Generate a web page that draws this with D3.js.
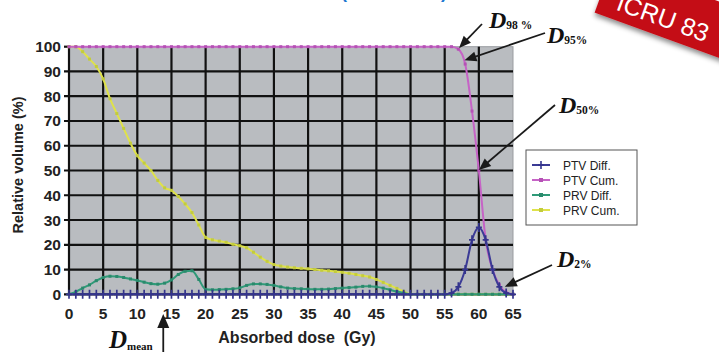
<!DOCTYPE html>
<html><head><meta charset="utf-8">
<script src="https://cdn.jsdelivr.net/npm/d3@7"></script>
<style>
html,body{margin:0;padding:0;background:#fff;overflow:hidden}
svg{display:block}
</style></head><body>
<svg id="chart" width="719" height="352"></svg>
<script>
// Dose bins (Gy)
const doses = [0,1,2,3,4,5,6,7,8,9,10,11,12,13,14,15,16,17,18,19,20,21,22,23,24,25,26,27,28,29,30,31,32,33,34,35,36,37,38,39,40,41,42,43,44,45,46,47,48,49,50,51,52,53,54,55,56,57,58,59,60,61,62,63,64,65];

// PTV differential DVH (%)
const ptvDiff = [0,0,0,0,0,0,0,0,0,0, 0,0,0,0,0,0,0,0,0,0, 0,0,0,0,0,0,0,0,0,0, 0,0,0,0,0,0,0,0,0,0, 0,0,0,0,0,0,0,0,0,0, 0,0,0,0,0,0, 0.5,3,10,22,27,22,10,3,0.5,0];

// PTV cumulative DVH (%)
const ptvCum = [100,100,100,100,100,100,100,100,100,100, 100,100,100,100,100,100,100,100,100,100, 100,100,100,100,100,100,100,100,100,100, 100,100,100,100,100,100,100,100,100,100, 100,100,100,100,100,100,100,100,100,100, 100,100,100,100,100,100,100, 99,93,74,50,22,10,3.8,0.8,0];

// PRV differential DVH (%)
const prvDiff = [0,1,2.5,3.8,5.5,6.8,7.3,7.2,6.8,6.2, 5.6,4.9,4.3,4.1,4.5,5.8,8,9.3,9.5,6, 2,1.8,1.9,2,2.2,2.6,3.6,4.2,4.2,4, 3.6,3,2.5,2.3,2.2,2.1,2,2,2.1,2.3, 2.5,2.7,2.9,3.2,3.3,3,2.5,1.8,1.1,0.5, 0, 0,0,0,0,0,0,0,0,0,0,0,0,0,0,0];

// PRV cumulative DVH (%)
const prvCum = [100,100,98,95,92,87,79,73,67,61, 56,53,50,46,43,42,39.5,36.5,33,28, 23,22,21.5,21,20.2,19.6,18.8,17,15,13.3, 12,11.4,11,10.7,10.5,10.3,10,9.7,9.5,9.2, 8.9,8.5,8,7.5,7,6,4.8,3.6,2.4,1.2, 0, 0,0,0,0,0,0,0,0,0,0,0,0,0,0,0];

const xTicks = [0,5,10,15,20,25,30,35,40,45,50,55,60,65];
const yTicks = [0,10,20,30,40,50,60,70,80,90,100];

const seriesNames = ["PTV Diff.","PTV Cum.","PRV Diff.","PRV Cum."];
const seriesColors = ["#3b3b96","#c663c6","#2f9a78","#dfe24a"];
const markerColors = ["#34348c","#b552b5","#2a8a6c","#c3cc3c"];
const seriesValues = [ptvDiff, ptvCum, prvDiff, prvCum];

const sans = "'Liberation Sans', Arial, Helvetica, sans-serif";
const serif = "'Liberation Serif', 'Times New Roman', serif";

const svg = d3.select("#chart");
const L = 69, R = 513, T = 46.7, B = 294.3;
const x = d3.scaleLinear().domain([0,65]).range([L,R]);
const y = d3.scaleLinear().domain([0,100]).range([B,T]);

// blue heading running off the top edge
svg.append("text").attr("x",447).attr("y",-2)
  .attr("text-anchor","end").attr("font-family",sans).attr("font-weight","bold")
  .attr("font-size",18).attr("fill","#1c78d0")
  .text("Dose–volume (cumulative)");

// plot background
svg.append("rect").attr("x",L).attr("y",T).attr("width",R-L).attr("height",B-T)
  .attr("fill","#b9bcc0").attr("stroke","#9a9da1").attr("stroke-width",1);

// grid
const grid = svg.append("g").attr("stroke","#111").attr("stroke-width",2.2);
grid.selectAll("line.v").data(xTicks.filter(d=>d<65)).join("line")
  .attr("x1",d=>x(d)).attr("x2",d=>x(d)).attr("y1",y(100)).attr("y2",y(0));
grid.selectAll("line.h").data(yTicks.filter(d=>d<100)).join("line")
  .attr("x1",x(0)-5).attr("x2",x(65)).attr("y1",d=>y(d)).attr("y2",d=>y(d));
svg.append("line").attr("x1",x(0)-5).attr("x2",x(0)).attr("y1",y(100)).attr("y2",y(100))
  .attr("stroke","#111").attr("stroke-width",2.2);

// tick labels
svg.append("g").selectAll("text").data(yTicks).join("text")
  .attr("x",61).attr("y",d=>y(d)+5.5).attr("text-anchor","end")
  .attr("font-family",sans).attr("font-weight","bold").attr("font-size",15.5).attr("fill","#222")
  .text(d=>d);
svg.append("g").selectAll("text").data(xTicks).join("text")
  .attr("x",d=>x(d)).attr("y",318.5).attr("text-anchor","middle")
  .attr("font-family",sans).attr("font-weight","bold").attr("font-size",15.5).attr("fill","#222")
  .text(d=>d);

// axis titles
svg.append("text").attr("transform","translate(23,165) rotate(-90)").attr("text-anchor","middle")
  .attr("font-family",sans).attr("font-weight","bold").attr("font-size",14.5).attr("fill","#222")
  .text("Relative volume (%)");
svg.append("text").attr("x",297).attr("y",343).attr("text-anchor","middle")
  .attr("font-family",sans).attr("font-weight","bold").attr("font-size",16).attr("fill","#222")
  .attr("xml:space","preserve").style("white-space","pre")
  .text("Absorbed dose  (Gy)");

// series lines and markers
const line = d3.line().curve(d3.curveMonotoneX).x((d,i)=>x(doses[i])).y(d=>y(d));
const drawOrder = [3,2,1,0];
drawOrder.forEach(k=>{
  const vals = seriesValues[k];
  svg.append("path").attr("d",line(vals)).attr("fill","none")
    .attr("stroke",seriesColors[k]).attr("stroke-width",2).attr("stroke-linejoin","round");
  const g = svg.append("g");
  if (k===0) {
    g.selectAll("path").data(vals).join("path")
      .attr("d",(d,i)=>`M${x(doses[i])-3},${y(d)}H${x(doses[i])+3}M${x(doses[i])},${y(d)-4.5}V${y(d)+4.5}`)
      .attr("stroke",markerColors[k]).attr("stroke-width",1.7);
  } else {
    g.selectAll("rect").data(vals).join("rect")
      .attr("x",(d,i)=>x(doses[i])-1.5).attr("y",d=>y(d)-1.5)
      .attr("width",3).attr("height",3).attr("fill",markerColors[k]);
  }
});

// legend
const lg = svg.append("g");
lg.append("rect").attr("x",526).attr("y",150).attr("width",111).attr("height",75)
  .attr("fill","#fff").attr("stroke","#555").attr("stroke-width",1);
seriesNames.forEach((name,k)=>{
  const yy = 165 + k*15;
  lg.append("line").attr("x1",532).attr("x2",550).attr("y1",yy).attr("y2",yy)
    .attr("stroke",seriesColors[k]).attr("stroke-width",2);
  if (k===0) {
    lg.append("path").attr("d",`M538,${yy}H544M541,${yy-4}V${yy+4}`)
      .attr("stroke",markerColors[k]).attr("stroke-width",1.6);
  } else {
    lg.append("rect").attr("x",539).attr("y",yy-2).attr("width",4).attr("height",4).attr("fill",markerColors[k]);
  }
  lg.append("text").attr("x",563).attr("y",yy+4.5).attr("font-family",sans)
    .attr("font-size",12).attr("fill","#222").text(name);
});

// arrow = shaft + filled triangular head ending at the tip
function arrow(x1,y1,x2,y2,len=12,half=5){
  const dx=x2-x1, dy=y2-y1, d=Math.hypot(dx,dy), ux=dx/d, uy=dy/d;
  const bx=x2-ux*len, by=y2-uy*len;
  svg.append("line").attr("x1",x1).attr("y1",y1).attr("x2",bx+ux*2).attr("y2",by+uy*2)
    .attr("stroke","#1a1a1a").attr("stroke-width",1.8);
  svg.append("path")
    .attr("d",`M${x2},${y2}L${bx-uy*half},${by+ux*half}L${bx+uy*half},${by-ux*half}Z`)
    .attr("fill","#1a1a1a");
}

// dose-volume annotations
const annotations = [
  {sub:"98 %", dose:57.1, vol:99.5, tail:[482,24], lx:489, ly:28},
  {sub:"95%",  dose:57.9, vol:94.5, tail:[545,33], lx:547, ly:43},
  {sub:"50%",  dose:60.0, vol:50.2, tail:[555,105], lx:559, ly:113},
  {sub:"2%",   dose:63.8, vol:3.0,  tail:[552,265], lx:557, ly:267}
];
annotations.forEach(a=>{
  arrow(a.tail[0],a.tail[1],x(a.dose),y(a.vol));
  const t = svg.append("text").attr("x",a.lx).attr("y",a.ly).attr("font-family",serif)
    .attr("font-weight","bold").attr("fill","#111");
  t.append("tspan").attr("font-style","italic").attr("font-size",24).text("D");
  t.append("tspan").attr("font-size",11.5).attr("dy",1).text(a.sub);
});

// mean dose arrow below the axis
const meanDose = 13.8;
arrow(x(meanDose),352,x(meanDose),314,14,6);
const tm = svg.append("text").attr("x",109).attr("y",348).attr("font-family",serif)
  .attr("font-weight","bold").attr("fill","#111");
tm.append("tspan").attr("font-style","italic").attr("font-size",25).text("D");
tm.append("tspan").attr("font-size",11).attr("dy",2).text("mean");

// ICRU 83 badge
const defs = svg.append("defs");
const f = defs.append("filter").attr("id","shadow").attr("x","-20%").attr("y","-20%").attr("width","140%").attr("height","160%");
f.append("feDropShadow").attr("dx",1).attr("dy",3).attr("stdDeviation",2.5).attr("flood-color","#000").attr("flood-opacity",0.45);
const badge = svg.append("g").attr("transform","translate(665,18) rotate(20)");
badge.append("rect").attr("x",-68).attr("y",-34).attr("width",175).attr("height",53)
  .attr("fill","#c40f14").attr("filter","url(#shadow)");
badge.append("text").attr("x",-2).attr("y",9).attr("text-anchor","middle")
  .attr("font-family",sans).attr("font-size",25).attr("fill","#fff").text("ICRU 83");
</script>
</body></html>
